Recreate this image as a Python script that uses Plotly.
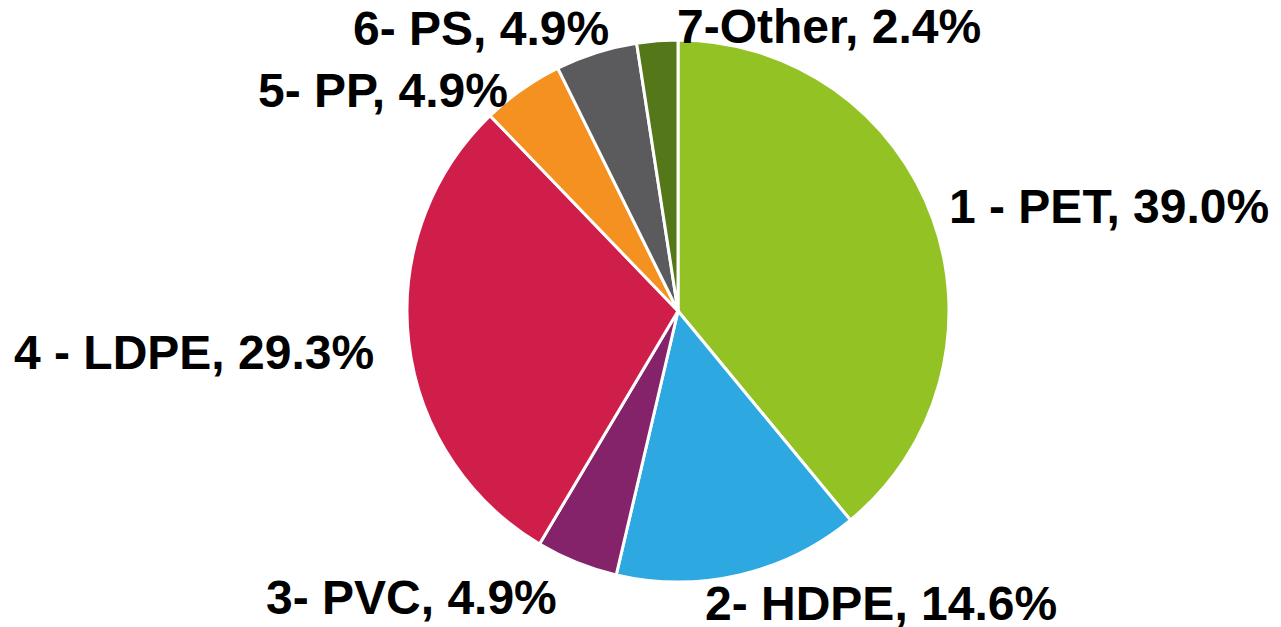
import plotly.graph_objects as go

# resin codes and share of items (counts out of 41)
labels = ["1 - PET", "2- HDPE", "3- PVC", "4 - LDPE", "5- PP", "6- PS", "7-Other"]
counts = [16, 6, 2, 12, 2, 2, 1]
colors = ["#93c225", "#2ea8e0", "#842369", "#d01e4b", "#f59120", "#5b5b5d", "#537719"]

W, H = 1281, 627
OFF = 8  # page body margin in the browser
# label centres in window pixels (layout only)
label_pos = [(1109, 206), (881, 603), (411, 597), (194, 352), (383, 91), (481, 29), (829, 27)]

total = sum(counts)
pct = [100.0 * c / total for c in counts]

cx, cy, r = 678 - OFF, 311 - OFF, 271
fig = go.Figure(go.Pie(
    labels=labels, values=counts, sort=False, direction="clockwise", rotation=0,
    marker=dict(colors=colors, line=dict(color="white", width=3)),
    textinfo="none", hoverinfo="label+percent", showlegend=False,
    domain=dict(x=[(cx - r) / W, (cx + r) / W], y=[1 - (cy + r) / H, 1 - (cy - r) / H]),
))

for lab, p, (px, py) in zip(labels, pct, label_pos):
    fig.add_annotation(x=(px - OFF) / W, y=1 - (py - OFF) / H, xref="paper", yref="paper",
                       text="<b>%s, %.1f%%</b>" % (lab, p), showarrow=False,
                       xanchor="center", yanchor="middle",
                       font=dict(family="Liberation Sans, Arial", size=48, color="black"))

fig.update_layout(width=W, height=H, margin=dict(l=0, r=0, t=0, b=0),
                  paper_bgcolor="white", plot_bgcolor="white")
fig.write_html("out.html")
